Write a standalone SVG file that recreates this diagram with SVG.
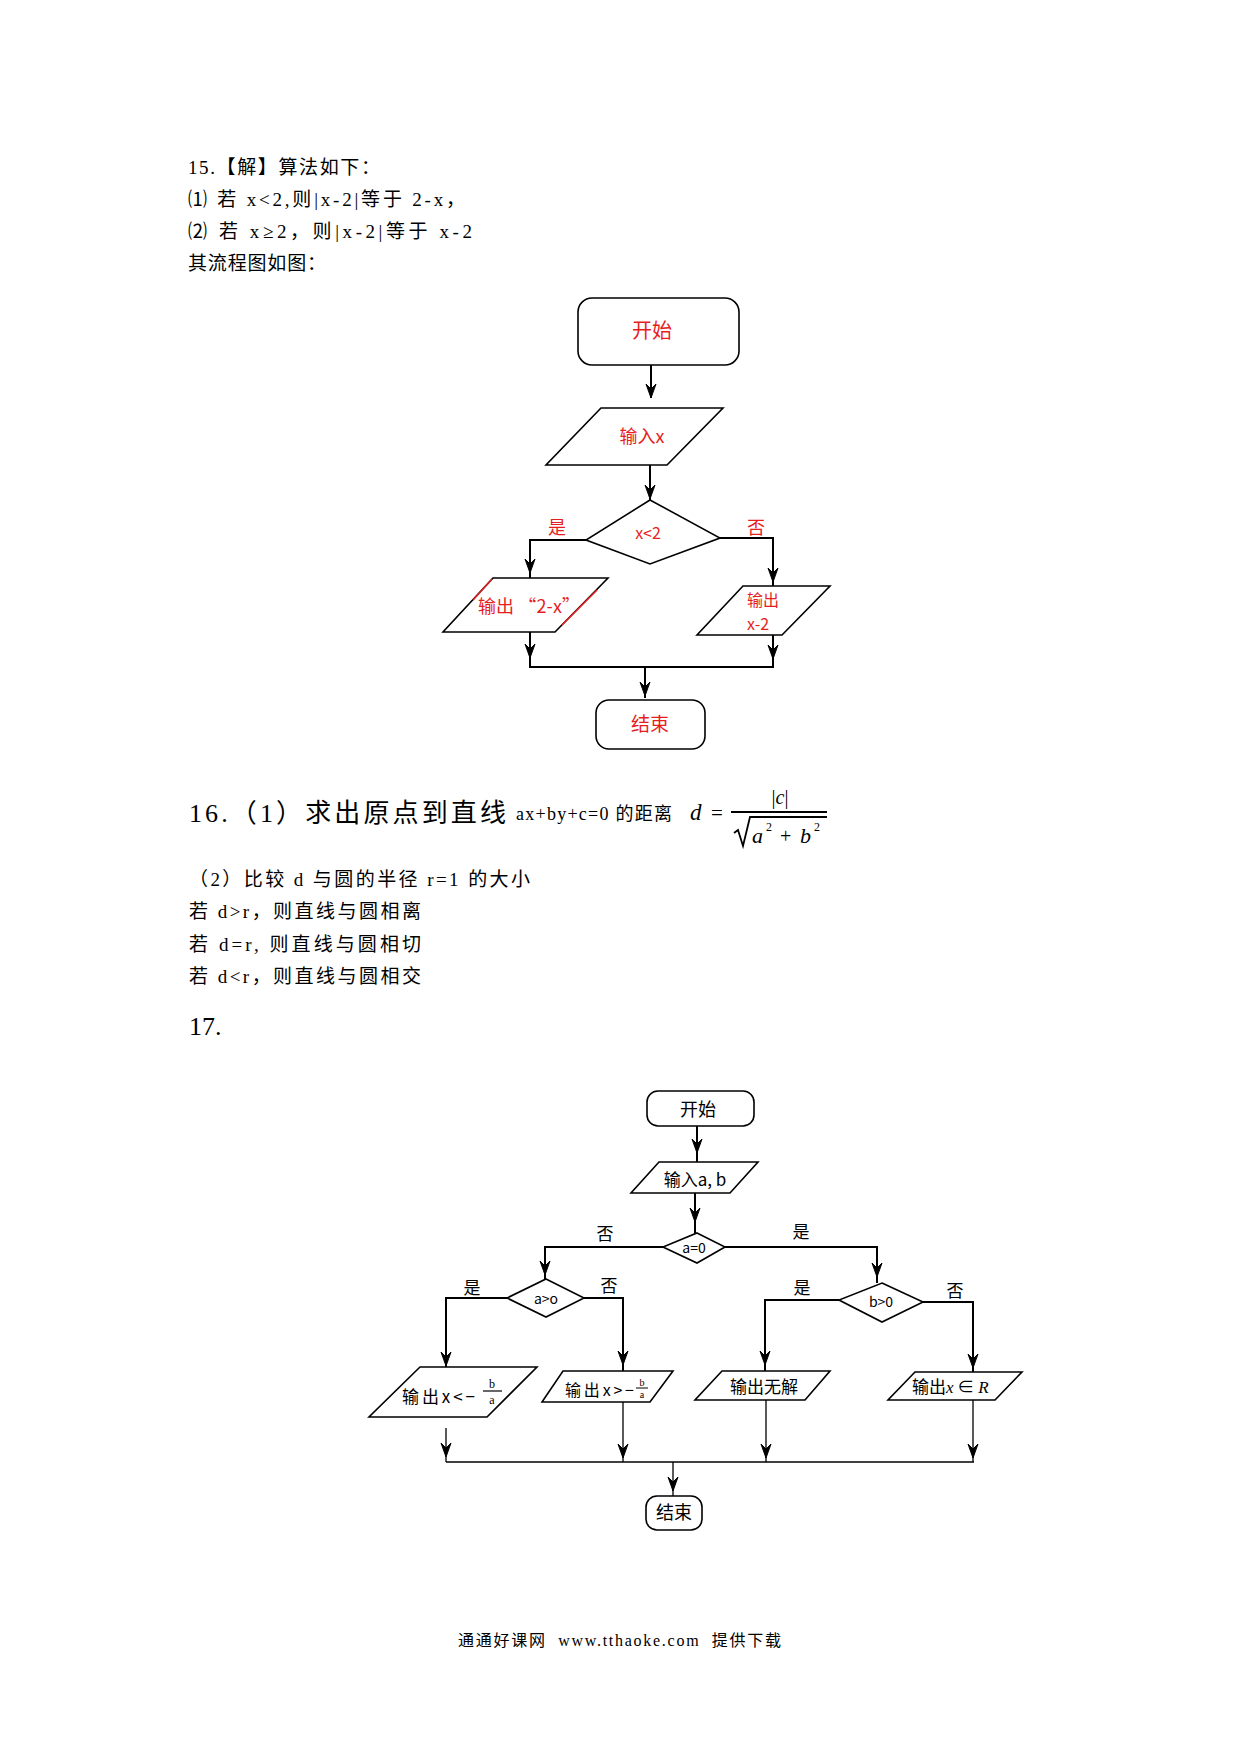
<svg xmlns="http://www.w3.org/2000/svg" xmlns:xlink="http://www.w3.org/1999/xlink" width="1240" height="1754" viewBox="0 0 1240 1754">
<style>
.t{font-family:"Liberation Serif","Noto Sans CJK SC",serif;fill:#000}
.c{font-family:"Noto Sans CJK SC","Liberation Serif",sans-serif}
.red{fill:#e61e1e}
.ln{stroke:#000;stroke-width:2;fill:none}
.thin{stroke:#000;stroke-width:1.3;fill:none}
.box{fill:#fff;stroke:#000;stroke-width:1.6}
.mid{text-anchor:middle}
.it{font-style:italic}
</style>
<defs>
<path id="ah" d="M0,0 L-5,-14 L0,-9 L5,-14 Z" fill="#000" stroke="#000" stroke-width="1"/>
</defs>
<rect x="0" y="0" width="1240" height="1754" fill="#fff"/>

<g id="text15">
<text class="t" x="188" y="174" font-size="19" textLength="192">15.【解】算法如下：</text>
<text class="t" x="188" y="206" font-size="19" textLength="277">⑴ 若 x&lt;2,则|x-2|等于 2-x，</text>
<text class="t" x="188" y="238" font-size="19" textLength="284">⑵ 若 x≥2，则|x-2|等于 x-2</text>
<text class="t" x="188" y="270" font-size="19" textLength="138">其流程图如图：</text>
</g>

<g id="fc15-connectors">
<line class="ln" x1="651" y1="365" x2="651" y2="398"/>
<use xlink:href="#ah" x="651" y="398"/>
<line class="ln" x1="650" y1="465" x2="650" y2="500"/>
<use xlink:href="#ah" x="650" y="499"/>
<polyline class="ln" points="586,540 530,540 530,578"/>
<use xlink:href="#ah" x="530" y="573"/>
<polyline class="ln" points="720,538 773,538 773,586"/>
<use xlink:href="#ah" x="773" y="582"/>
<line class="ln" x1="530" y1="632" x2="530" y2="667"/>
<use xlink:href="#ah" x="530" y="658"/>
<line class="ln" x1="773" y1="635" x2="773" y2="667"/>
<use xlink:href="#ah" x="773" y="659"/>
<line class="ln" x1="529" y1="667" x2="774" y2="667"/>
<line class="ln" x1="645" y1="667" x2="645" y2="698"/>
<use xlink:href="#ah" x="645" y="696"/>
</g>
<g id="fc15-start">
<rect class="box" x="578" y="298" width="161" height="67" rx="14"/>
<text class="c red mid" x="652" y="338" font-size="20">开始</text>
</g>
<g id="fc15-input">
<polygon class="box" points="601,408 723,408 667,465 546,465"/>
<text class="c red mid" x="642" y="443" font-size="18">输入x</text>
</g>
<g id="fc15-decision">
<polygon class="box" points="650,500 720,538 650,564 586,540"/>
<text class="c red mid" x="648" y="539" font-size="16">x&lt;2</text>
<text class="c red mid" x="557" y="534" font-size="18">是</text>
<text class="c red mid" x="756" y="534" font-size="18">否</text>
</g>
<g id="fc15-out-left">
<polygon class="box" points="493,578 608,578 555,632 443,632"/>
<line x1="473" y1="600" x2="492" y2="579" stroke="#e61e1e" stroke-width="1.6"/>
<line x1="562" y1="625" x2="597" y2="590" stroke="#e61e1e" stroke-width="1.6"/>
<text class="c red" x="478" y="613" font-size="18" textLength="102">输出 “2-x”</text>
</g>
<g id="fc15-out-right">
<polygon class="box" points="743,586 830,586 782,635 697,635"/>
<text class="c red" x="747" y="606" font-size="16">输出</text>
<text class="c red" x="747" y="630" font-size="16">x-2</text>
</g>
<g id="fc15-end">
<rect class="box" x="596" y="700" width="109" height="49" rx="13"/>
<text class="c red mid" x="650" y="731" font-size="19">结束</text>
</g>

<g id="text16">
<text class="t" x="189" y="822" font-size="26" textLength="317">16.（1）求出原点到直线</text>
<text class="t" x="516" y="820" font-size="18" textLength="156">ax+by+c=0 的距离</text>
<text class="t it" x="690" y="820" font-size="23">d</text>
<text class="t" x="711" y="820" font-size="21">=</text>
<text class="t mid" x="780" y="804" font-size="20">|<tspan class="it">c</tspan>|</text>
<line x1="731" y1="812" x2="827" y2="812" stroke="#000" stroke-width="2"/>
<polyline points="734,833 738,830 743,846 750,817 827,817" fill="none" stroke="#000" stroke-width="1.8"/>
<text class="t it" x="752" y="843" font-size="22">a</text>
<text class="t" x="766" y="831" font-size="12">2</text>
<text class="t" x="780" y="843" font-size="20">+</text>
<text class="t it" x="800" y="843" font-size="22">b</text>
<text class="t" x="814" y="831" font-size="12">2</text>
<text class="t" x="189" y="886" font-size="19" textLength="341">（2）比较 d 与圆的半径 r=1 的大小</text>
<text class="t" x="189" y="918" font-size="19" textLength="232">若 d&gt;r，则直线与圆相离</text>
<text class="t" x="189" y="951" font-size="19" textLength="232">若 d=r, 则直线与圆相切</text>
<text class="t" x="189" y="983" font-size="19" textLength="232">若 d&lt;r，则直线与圆相交</text>
<text class="t" x="189" y="1035" font-size="26">17.</text>
</g>

<g id="fc17-connectors">
<line class="ln" x1="697" y1="1126" x2="697" y2="1162"/>
<use xlink:href="#ah" x="697" y="1153"/>
<line class="ln" x1="695" y1="1193" x2="695" y2="1233"/>
<use xlink:href="#ah" x="695" y="1222"/>
<polyline class="ln" points="663,1247 545,1247 545,1279"/>
<use xlink:href="#ah" x="545" y="1275"/>
<polyline class="ln" points="725,1247 877,1247 877,1283"/>
<use xlink:href="#ah" x="877" y="1277"/>
<polyline class="ln" points="507,1298 446,1298 446,1367"/>
<use xlink:href="#ah" x="446" y="1366"/>
<polyline class="ln" points="584,1298 623,1298 623,1371"/>
<use xlink:href="#ah" x="623" y="1365"/>
<polyline class="ln" points="839,1300 765,1300 765,1371"/>
<use xlink:href="#ah" x="765" y="1365"/>
<polyline class="ln" points="923,1302 973,1302 973,1372"/>
<use xlink:href="#ah" x="973" y="1368"/>
<line class="thin" x1="446" y1="1428" x2="446" y2="1462"/>
<use xlink:href="#ah" x="446" y="1457"/>
<line class="thin" x1="623" y1="1402" x2="623" y2="1462"/>
<use xlink:href="#ah" x="623" y="1458"/>
<line class="thin" x1="766" y1="1400" x2="766" y2="1462"/>
<use xlink:href="#ah" x="766" y="1458"/>
<line class="thin" x1="973" y1="1400" x2="973" y2="1462"/>
<use xlink:href="#ah" x="973" y="1458"/>
<line class="thin" x1="446" y1="1462" x2="974" y2="1462"/>
<line class="thin" x1="673" y1="1462" x2="673" y2="1496"/>
<use xlink:href="#ah" x="673" y="1491"/>
</g>
<g id="fc17-start">
<rect class="box" x="647" y="1091" width="107" height="35" rx="11"/>
<text class="c mid" x="698" y="1116" font-size="18">开始</text>
</g>
<g id="fc17-input">
<polygon class="box" points="659,1162 758,1162 730,1193 631,1193"/>
<text class="c mid" x="695" y="1186" font-size="17">输入a, b</text>
</g>
<g id="fc17-d1">
<polygon class="box" points="697,1233 725,1247 697,1263 663,1247"/>
<text class="c mid" x="694" y="1253" font-size="14">a=0</text>
<text class="c mid" x="605" y="1240" font-size="17">否</text>
<text class="c mid" x="801" y="1238" font-size="17">是</text>
</g>
<g id="fc17-d2">
<polygon class="box" points="546,1279 584,1298 546,1317 507,1298"/>
<text class="c mid" x="546" y="1304" font-size="14">a&gt;o</text>
<text class="c mid" x="472" y="1294" font-size="17">是</text>
<text class="c mid" x="609" y="1292" font-size="17">否</text>
</g>
<g id="fc17-d3">
<polygon class="box" points="882,1283 923,1302 882,1322 839,1300"/>
<text class="c mid" x="881" y="1307" font-size="14">b&gt;0</text>
<text class="c mid" x="802" y="1294" font-size="17">是</text>
<text class="c mid" x="955" y="1297" font-size="17">否</text>
</g>
<g id="fc17-out1">
<polygon class="box" points="420,1367 537,1367 487,1417 369,1417"/>
<text class="c" x="402" y="1403" font-size="17" textLength="73">输出x&lt;−</text>
<text class="t mid" x="492" y="1388" font-size="12">b</text>
<line x1="483" y1="1391" x2="502" y2="1391" stroke="#000" stroke-width="1.2"/>
<text class="t mid" x="492" y="1404" font-size="12">a</text>
</g>
<g id="fc17-out2">
<polygon class="box" points="563,1371 673,1371 650,1402 542,1402"/>
<text class="c" x="565" y="1396" font-size="16" textLength="69">输出x&gt;−</text>
<text class="t mid" x="642" y="1386" font-size="10">b</text>
<line x1="636" y1="1388" x2="648" y2="1388" stroke="#000" stroke-width="1"/>
<text class="t mid" x="642" y="1398" font-size="10">a</text>
</g>
<g id="fc17-out3">
<polygon class="box" points="722,1371 830,1371 805,1400 695,1400"/>
<text class="c mid" x="764" y="1393" font-size="17">输出无解</text>
</g>
<g id="fc17-out4">
<polygon class="box" points="915,1372 1022,1372 995,1400 888,1400"/>
<text class="c" x="912" y="1393" font-size="17">输出<tspan class="t it">x</tspan> ∈ <tspan class="t it">R</tspan></text>
</g>
<g id="fc17-end">
<rect class="box" x="646" y="1496" width="56" height="34" rx="11"/>
<text class="c mid" x="674" y="1519" font-size="18">结束</text>
</g>

<g id="footer">
<text class="t" x="458" y="1646" font-size="16" textLength="323" xml:space="preserve">通通好课网  www.tthaoke.com  提供下载</text>
</g>
</svg>
